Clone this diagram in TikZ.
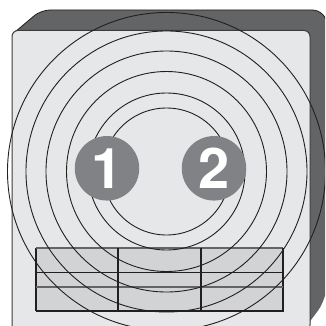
\documentclass[tikz,border=0pt]{standalone}
\usepackage{fontspec}
\setmainfont{TeX Gyre Heros}
\definecolor{backc}{HTML}{636466}
\definecolor{panelc}{HTML}{E6E7E8}
\definecolor{tablec}{HTML}{D1D3D4}
\definecolor{badgec}{HTML}{808285}
\definecolor{linec}{HTML}{231F20}
\tikzset{
  ring/.style={draw=linec,line width=0.9pt},
  gridline/.style={draw=linec,line width=1.1pt},
  badge/.style={circle,fill=badgec,minimum size=64.5pt,inner sep=0pt,text=white,font=\fontsize{56}{56}\selectfont\bfseries}
}
\begin{document}
\begin{tikzpicture}[x=1pt,y=-1pt]
\useasboundingbox (0,0) rectangle (325,326);
% housing
\begin{scope}
\clip (0,0) rectangle (325,326);
\path[fill=backc,rounded corners=9pt] (15,32) -- (41,10) -- (300,10) [rounded corners=15pt] -- (327,10) -- (327,298.5) [sharp corners] -- (308,324) -- (30,324) -- cycle;
\draw[draw=linec,line width=0.8pt,rounded corners=9pt] (15,32) -- (41,10) -- (300,10) [rounded corners=15pt] -- (327,10) -- (327,40);
% front panel
\draw[fill=panelc,draw=backc!60!black,line width=1pt,rounded corners=6pt] (12,30.5) rectangle (310,331);
\end{scope}
% table
\fill[tablec] (36,248) rectangle (283,311);
\draw[gridline] (36,311) -- (36,248);
\draw[draw=backc,line width=1.1pt] (36,248) -- (283,248);
\draw[gridline] (283,248) -- (283,311) -- (36,311);
\draw[gridline] (36,272.5) -- (283,272.5);
\draw[draw=backc,line width=1.1pt] (36,287) -- (283,287);
\draw[gridline] (118,248) -- (118,311);
\draw[gridline] (201,248) -- (201,311);
% rings
\begin{scope}
\clip (0,0) rectangle (325,326);
\foreach \r in {159,140.5,120.5,100,78.5,63.5} \draw[ring] (166.5,171.5) circle[radius=\r];
\end{scope}
% badges
\node[badge] (one) at (107,168.3) {\hspace{1pt}1};
\node[badge] (two) at (214,168.3) {2};
\end{tikzpicture}
\end{document}
